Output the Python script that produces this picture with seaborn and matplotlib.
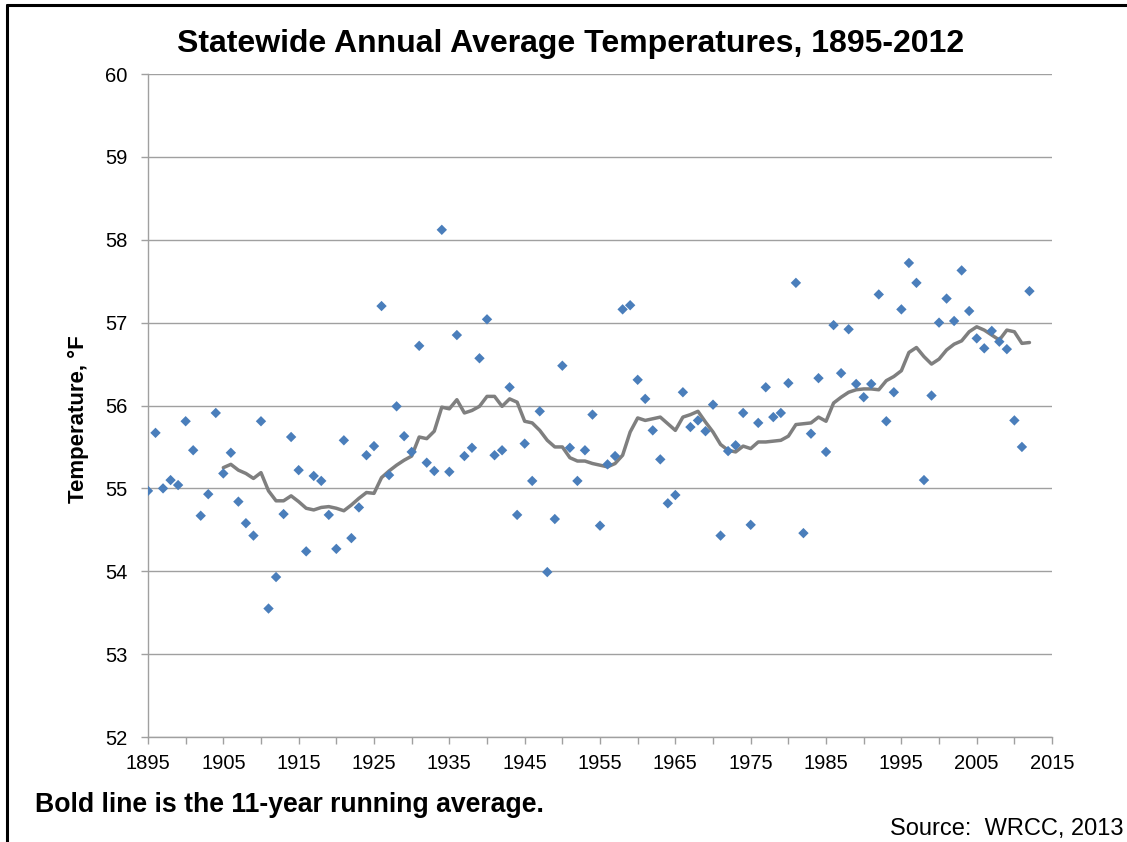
import numpy as np
import pandas as pd
import matplotlib
matplotlib.use("Agg")
import matplotlib.pyplot as plt
from matplotlib.lines import Line2D
import seaborn as sns

# Annual statewide average temperatures (deg F)
years = list(range(1895, 2013))
temps = [
    54.97, 55.67, 55.00, 55.10, 55.04, 55.81, 55.46, 54.67, 54.93, 55.91,  # 1895-1904
    55.18, 55.43, 54.84, 54.58, 54.43, 55.81, 53.55, 53.93, 54.69, 55.62,  # 1905-1914
    55.22, 54.24, 55.15, 55.09, 54.68, 54.27, 55.58, 54.40, 54.77, 55.40,  # 1915-1924
    55.51, 57.20, 55.16, 55.99, 55.63, 55.44, 56.72, 55.31, 55.21, 58.12,  # 1925-1934
    55.20, 56.85, 55.39, 55.49, 56.57, 57.04, 55.40, 55.46, 56.22, 54.68,  # 1935-1944
    55.54, 55.09, 55.93, 53.99, 54.63, 56.48, 55.49, 55.09, 55.46, 55.89,  # 1945-1954
    54.55, 55.29, 55.39, 57.16, 57.21, 56.31, 56.08, 55.70, 55.35, 54.82,  # 1955-1964
    54.92, 56.16, 55.74, 55.82, 55.69, 56.01, 54.43, 55.45, 55.52, 55.91,  # 1965-1974
    54.56, 55.79, 56.22, 55.86, 55.91, 56.27, 57.48, 54.46, 55.66, 56.33,  # 1975-1984
    55.44, 56.97, 56.39, 56.92, 56.26, 56.10, 56.26, 57.34, 55.81, 56.16,  # 1985-1994
    57.16, 57.72, 57.48, 55.10, 56.12, 57.00, 57.29, 57.02, 57.63, 57.14,  # 1995-2004
    56.81, 56.69, 56.90, 56.77, 56.68, 55.82, 55.50, 57.38,                # 2005-2012
]

# 11-year running average (bold line), 1905-2012
avg_years = list(range(1905, 2013))
running_avg = [
    55.25, 55.29, 55.22, 55.18, 55.12, 55.19, 54.97, 54.85, 54.85, 54.91,  # 1905-1914
    54.84, 54.76, 54.74, 54.77, 54.78, 54.76, 54.73, 54.80, 54.88, 54.95,  # 1915-1924
    54.94, 55.13, 55.21, 55.28, 55.34, 55.39, 55.62, 55.60, 55.69, 55.98,  # 1925-1934
    55.96, 56.07, 55.91, 55.94, 55.99, 56.11, 56.11, 55.99, 56.08, 56.04,  # 1935-1944
    55.81, 55.79, 55.70, 55.58, 55.50, 55.50, 55.37, 55.33, 55.33, 55.30,  # 1945-1954
    55.28, 55.26, 55.30, 55.40, 55.68, 55.85, 55.82, 55.84, 55.86, 55.78,  # 1955-1964
    55.70, 55.86, 55.89, 55.93, 55.80, 55.68, 55.53, 55.46, 55.44, 55.51,  # 1965-1974
    55.48, 55.56, 55.56, 55.57, 55.58, 55.63, 55.77, 55.78, 55.79, 55.86,  # 1975-1984
    55.81, 56.03, 56.10, 56.16, 56.19, 56.20, 56.20, 56.19, 56.30, 56.35,  # 1985-1994
    56.42, 56.64, 56.70, 56.59, 56.50, 56.56, 56.67, 56.74, 56.78, 56.89,  # 1995-2004
    56.95, 56.91, 56.85, 56.79, 56.91, 56.89, 56.75, 56.76,                # 2005-2012
]

x_ticks = list(range(1895, 2016, 10))
x_minor = list(range(1900, 2016, 10))
y_ticks = list(range(52, 61))

df_pts = pd.DataFrame({"year": years, "temp": temps})
df_avg = pd.DataFrame({"year": avg_years, "temp": running_avg})

sns.set_style("white")
plt.rcParams["font.family"] = ["Liberation Sans", "DejaVu Sans"]
plt.rcParams["text.color"] = "black"

fig = plt.figure(figsize=(11.27, 8.42), dpi=100)
ax = fig.add_axes([0.1313, 0.1247, 0.8022, 0.7874])

sns.lineplot(data=df_avg, x="year", y="temp", ax=ax, color="#7f7f7f",
             linewidth=2.5, zorder=2)
sns.scatterplot(data=df_pts, x="year", y="temp", ax=ax, marker="D",
                color="#4a7ebb", s=28, edgecolor="none", zorder=3)

ax.set_xlim(1895, 2015)
ax.set_ylim(52, 60)
ax.set_xticks(x_ticks)
ax.set_xticks(x_minor, minor=True)
ax.set_yticks(y_ticks)
ax.yaxis.grid(True, color="#a0a0a0", linewidth=1.0)
ax.set_axisbelow(True)
ax.set_xlabel("")
ax.set_ylabel("")

for side in ["top", "right"]:
    ax.spines[side].set_visible(False)
for side in ["left", "bottom"]:
    ax.spines[side].set_color("#a0a0a0")
    ax.spines[side].set_linewidth(1.0)

ax.tick_params(axis="both", which="both", direction="out", length=5,
               width=1.0, color="#a0a0a0", labelsize=14.5, labelcolor="black")
ax.tick_params(axis="x", which="both", bottom=True, pad=7)
ax.tick_params(axis="y", left=True, pad=10)

fig.text(0.5067, 0.9477, "Statewide Annual Average Temperatures, 1895-2012",
         ha="center", va="center", fontsize=23, fontweight="bold")
fig.text(0.070, 0.502, "Temperature, °F", rotation=90, ha="center",
         va="center", fontsize=16, fontweight="bold")
fig.text(0.031, 0.044, "Bold line is the 11-year running average.",
         ha="left", va="center", fontsize=19.2, fontweight="bold")
fig.text(0.997, 0.002, "Source:  WRCC, 2013", ha="right", va="bottom",
         fontsize=17)

# frame lines at the top and left edge of the slide
fig.add_artist(Line2D([0.0062, 1.0], [0.994, 0.994], color="black",
                      linewidth=2.2, transform=fig.transFigure))
fig.add_artist(Line2D([0.0062, 0.0062], [0.0, 0.994], color="black",
                      linewidth=2.2, transform=fig.transFigure))

fig.savefig("out.png", dpi=100)
